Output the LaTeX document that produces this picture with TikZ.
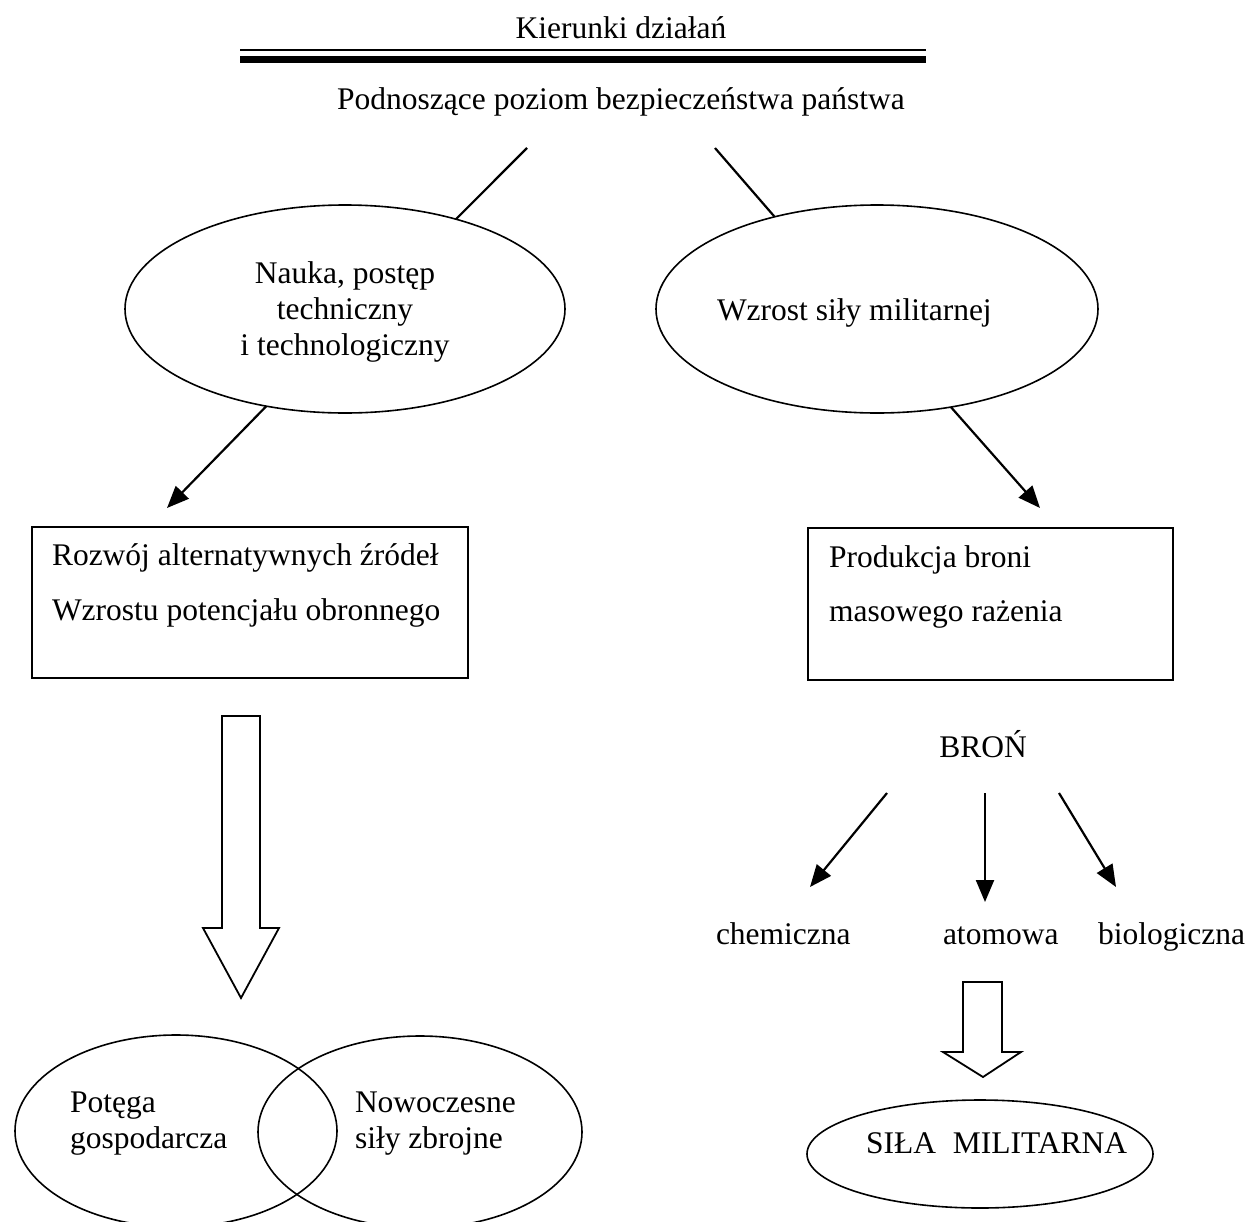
\documentclass[tikz,border=0pt]{standalone}
\usepackage{fontspec}
\setmainfont{Liberation Serif}
\usetikzlibrary{arrows.meta,shapes.geometric}
\begin{document}
\begin{tikzpicture}[x=1pt,y=-1pt,
  txt/.style={inner sep=0pt, outer sep=0pt, font=\fontsize{31.5}{36}\selectfont},
  ell/.style={draw, ellipse, line width=1.6pt, inner sep=0pt, outer sep=0pt},
  box/.style={draw, rectangle, line width=1.6pt, inner sep=0pt, outer sep=0pt},
  conn/.style={line width=2.2pt},
  arr/.style={line width=2.2pt, -{Triangle[length=22pt,width=18pt]}},
  hollow/.style={line width=1.8pt, line join=miter}
]
\useasboundingbox (0,0) rectangle (1253,1221);

% title and rule
\node[txt, anchor=base] (title) at (621,38) {Kierunki działań};
\draw[line width=2pt] (240,50) -- (926,50);
\draw[line width=7pt] (240,59) -- (926,59);
\node[txt, anchor=base] (sub) at (621,109) {Podnoszące poziom bezpieczeństwa państwa};

% upper ellipses
\node[ell, minimum width=440pt, minimum height=208pt] (e1) at (345,309) {};
\node[txt, anchor=base] (e1a) at (345,283) {Nauka, postęp};
\node[txt, anchor=base] (e1b) at (345,319) {techniczny};
\node[txt, anchor=base] (e1c) at (345,355) {i technologiczny};

\node[ell, minimum width=442pt, minimum height=208pt] (e2) at (877,309) {};
\node[txt, anchor=base west] (e2a) at (717,320) {Wzrost siły militarnej};

\coordinate (t1) at (527,148);
\coordinate (t2) at (715,148);
\draw[conn] (t1) -- (e1.39);
\draw[conn] (t2) -- (e2.138);

% boxes
\node[box, minimum width=436pt, minimum height=151pt] (b1) at (250,602.5) {};
\node[txt, anchor=base west] (b1a) at (52,565) {Rozwój alternatywnych źródeł};
\node[txt, anchor=base west] (b1b) at (52,620) {Wzrostu potencjału obronnego};

\node[box, minimum width=365pt, minimum height=152pt] (b2) at (990.5,604) {};
\node[txt, anchor=base west] (b2a) at (829,567) {Produkcja broni};
\node[txt, anchor=base west] (b2b) at (829,621) {masowego rażenia};

\coordinate (a1) at (167,508);
\coordinate (a2) at (1040,508);
\draw[arr] (e1.231) -- (a1);
\draw[arr] (e2.-53) -- (a2);

% big hollow arrow
\draw[hollow] (222,716) -- (260,716) -- (260,928) -- (279,928) -- (241,998) -- (203,928) -- (222,928) -- cycle;

% weapons
\node[txt, anchor=base] (bron) at (983,757) {BROŃ};
\coordinate (s1) at (887,793);
\coordinate (s2) at (985,793);
\coordinate (s3) at (1059,793);
\coordinate (d1) at (810,887);
\coordinate (d2) at (985,902);
\coordinate (d3) at (1116,887);
\draw[arr] (s1) -- (d1);
\draw[arr] (s2) -- (d2);
\draw[arr] (s3) -- (d3);

\node[txt, anchor=base west] (chem) at (716,944) {chemiczna};
\node[txt, anchor=base west] (atom) at (943,944) {atomowa};
\node[txt, anchor=base west] (bio) at (1098,944) {biologiczna};

% small hollow arrow
\draw[hollow] (963,982) -- (1002,982) -- (1002,1052) -- (1021,1052) -- (983,1077) -- (943,1052) -- (963,1052) -- cycle;

% military power
\node[ell, minimum width=346pt, minimum height=108pt] (e3) at (980,1154) {};
\node[txt, anchor=base west] (e3a) at (866,1153) {SIŁA\hspace{17pt}MILITARNA};

% venn
\node[ell, minimum width=322pt, minimum height=192pt] (v1) at (176,1131) {};
\node[ell, minimum width=324pt, minimum height=192pt] (v2) at (420,1132) {};
\node[txt, anchor=base west] (v1a) at (70,1112) {Potęga};
\node[txt, anchor=base west] (v1b) at (70,1148) {gospodarcza};
\node[txt, anchor=base west] (v2a) at (355,1112) {Nowoczesne};
\node[txt, anchor=base west] (v2b) at (355,1148) {siły zbrojne};
\end{tikzpicture}
\end{document}
